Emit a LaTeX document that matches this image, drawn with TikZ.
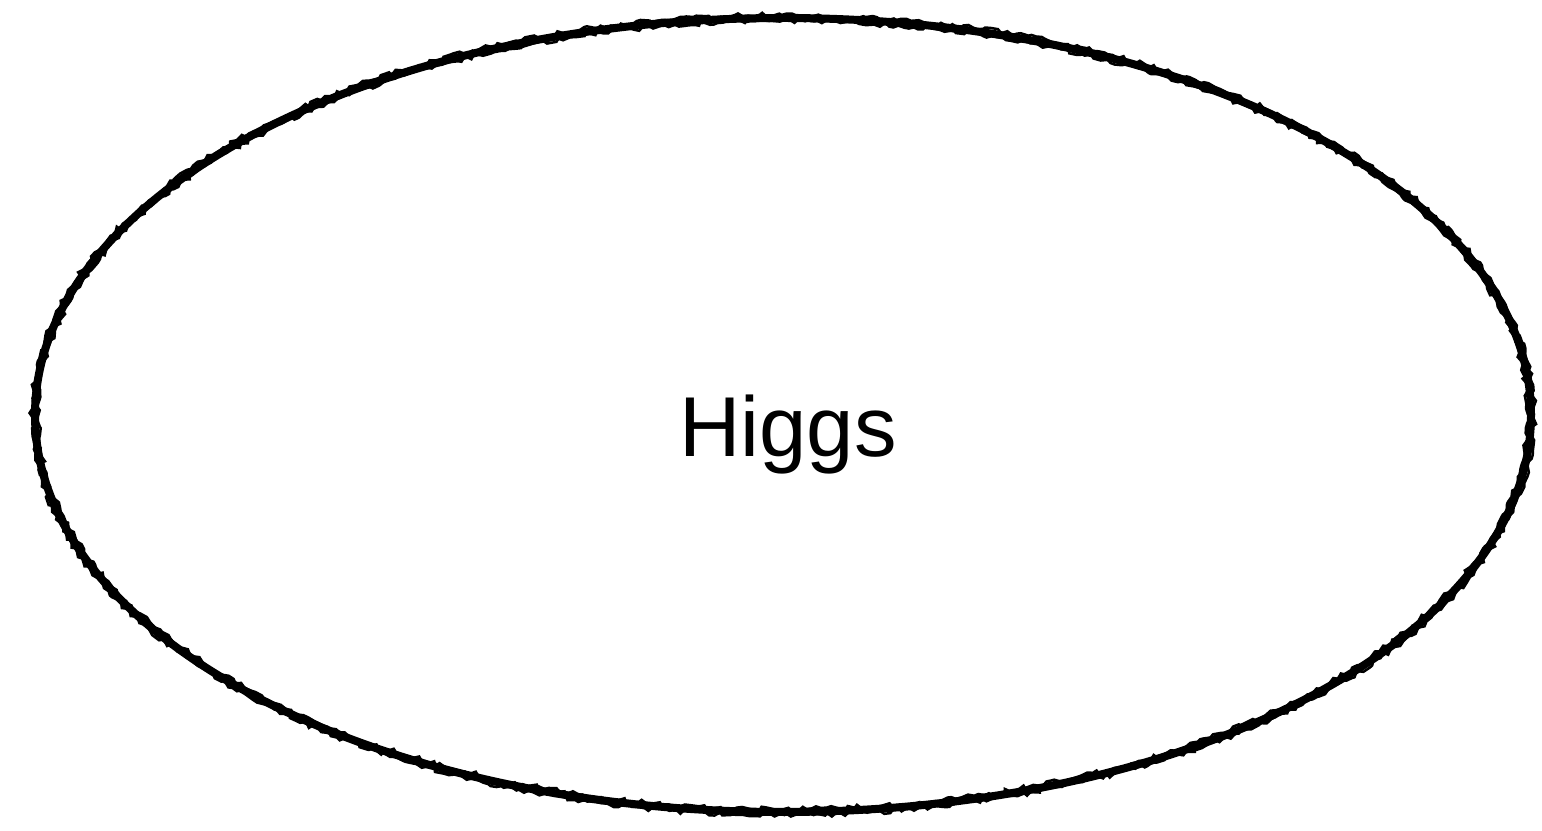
\documentclass[tikz,border=0pt]{standalone}
\usepackage{fontspec}
\setmainfont{Liberation Sans}
\usetikzlibrary{shapes.geometric,decorations.pathmorphing}
\tikzset{
  rough/.style={draw=black, line width=8pt},
  roughtex/.style={draw=black, line width=2.5pt, decorate, decoration={random steps, segment length=5pt, amplitude=2.5pt}},
  label/.style={font=\fontsize{85}{95}\selectfont, inner sep=0pt, anchor=base}
}
\begin{document}
\begin{tikzpicture}[x=1pt,y=1pt]
\useasboundingbox (0,0) rectangle (1542,830);
\node[ellipse, rough, inner sep=0pt, minimum width=1496pt, minimum height=794pt] (higgs) at (783,415) {};
\draw[roughtex] (783,415) ellipse [x radius=751pt, y radius=400pt];
\draw[roughtex] (783,415) ellipse [x radius=745pt, y radius=394pt];
\node[label] (txt) at (788,373) {Higgs};
\end{tikzpicture}
\end{document}
